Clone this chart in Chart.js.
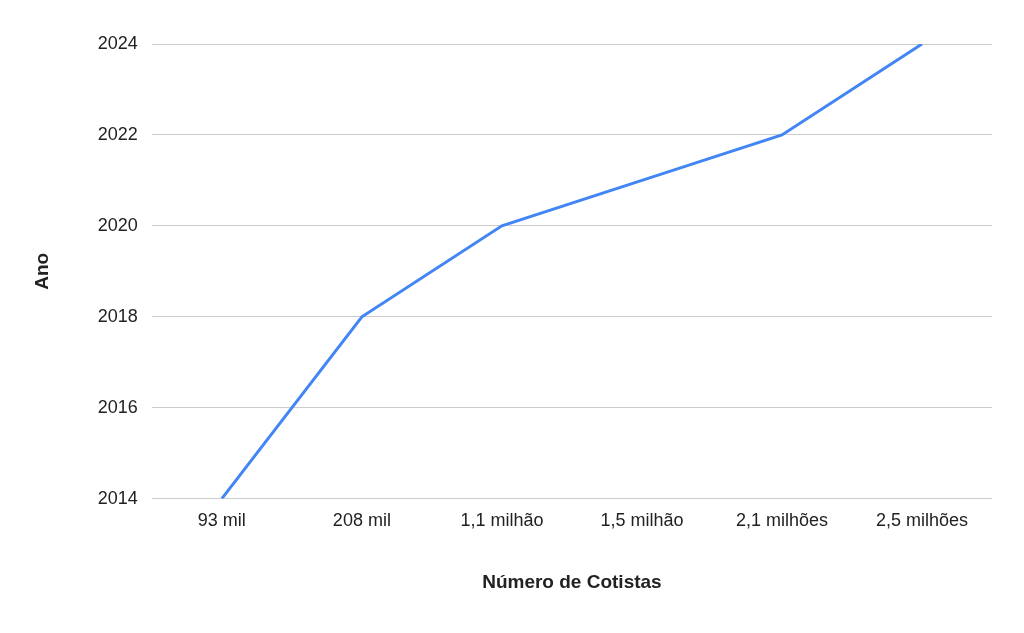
<!DOCTYPE html>
<html><head><meta charset="utf-8">
<script src="https://cdn.jsdelivr.net/npm/chart.js@4/dist/chart.umd.min.js"></script>
<style>html,body{margin:0;padding:0;background:#fff}#w{width:1024px;height:633px}</style>
</head><body><div id="w"><canvas id="c"></canvas></div>
<script>
const categories = ["93 mil","208 mil","1,1 milhão","1,5 milhão","2,1 milhões","2,5 milhões"];
const anos = [2014, 2018, 2020, 2021, 2022, 2024];
const xTitle = "Número de Cotistas";
const yTitle = "Ano";
const font = "'Liberation Sans', Arial, sans-serif";
new Chart(document.getElementById('c'), {
  type: 'line',
  data: { labels: categories, datasets: [{ data: anos, borderColor: '#4285f4', borderWidth: 3, pointRadius: 0, tension: 0, fill: false }] },
  options: {
    responsive: true, maintainAspectRatio: false, animation: false,
    layout: { padding: { left: 27, right: 32, top: 44, bottom: 35 } },
    plugins: { legend: { display: false }, tooltip: { enabled: false } },
    scales: {
      x: { offset: true, grid: { display: false }, border: { display: false },
           ticks: { color: '#222', font: { family: font, size: 18 }, padding: 4 },
           title: { display: true, text: xTitle, color: '#222', font: { family: font, size: 19, weight: 'bold' }, padding: { top: 35 } } },
      y: { min: 2014, max: 2024, grid: { color: '#cccccc', drawTicks: false }, border: { display: false },
           ticks: { stepSize: 2, color: '#222', font: { family: font, size: 18 }, padding: 14, callback: v => String(v) },
           title: { display: true, text: yTitle, color: '#222', font: { family: font, size: 19, weight: 'bold' }, padding: { bottom: 30 } } }
    }
  }
});
</script></body></html>
